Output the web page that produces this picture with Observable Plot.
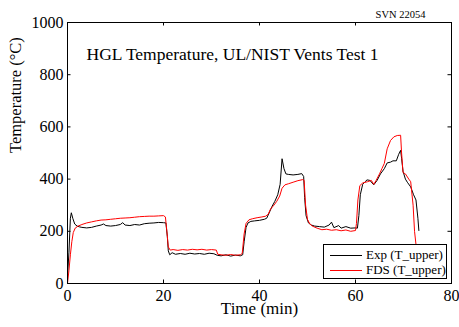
<!DOCTYPE html>
<html>
<head>
<meta charset="utf-8">
<script src="https://cdn.jsdelivr.net/npm/d3@7"></script>
<script src="https://cdn.jsdelivr.net/npm/@observablehq/plot@0.6"></script>
<style>
  body { margin: 0; background: white; }
  #wrap { position: relative; width: 459px; height: 327px; font-family: "Liberation Serif", serif; }
  #legend { position: absolute; left: 323px; top: 244px; width: 122px; height: 33px; border: 1px solid black; background: white; font-size: 13px; font-family: "Liberation Serif", serif; }
  .row { position: absolute; left: 0; height: 14px; }
  .swatch { position: absolute; left: 6px; top: 7px; width: 32px; height: 0; border-top: 1px solid black; }
  .lab { position: absolute; left: 42px; top: -1px; white-space: nowrap; }
</style>
</head>
<body>
<div id="wrap"></div>
<script>
const xTicks = [0, 20, 40, 60, 80];
const yTicks = [0, 200, 400, 600, 800, 1000];
const title = "HGL Temperature, UL/NIST Vents Test 1";
const revision = "SVN 22054";
const xLabel = "Time (min)";
const yLabel = "Temperature (\u00B0C)";
const seriesNames = ["Exp (T_upper)", "FDS (T_upper)"];
const seriesColors = ["black", "red"];

const expTime = [0,0.3,0.6,0.8,1.1,1.5,2,2.5,3,4,5,6,7,7.5,8,9,10,11,11.5,12,13,14,15,16,17,18,19,20,20.5,20.8,21.0,21.3,21.8,22.5,23.5,24.5,25.5,26.5,27.5,28.5,29.5,30.5,31.2,32,33,34,35,36,36.5,36.8,37.2,37.6,38.2,39,40,41,41.5,42,42.6,43.2,43.8,44.3,44.7,45.1,45.5,46,47,48,48.8,49.2,49.4,49.7,50.2,50.8,51.5,52.5,53.5,54.5,55,55.5,56.5,57,58,59,60,60.4,60.7,61,61.5,62,62.4,63,63.8,64.5,65.2,66,66.6,67.3,67.8,68.5,69,69.4,69.6,69.9,70.4,70.8,71.5,72.1,72.6,73.0,73.2];
const expTemp = [25,120,250,271,250,228,220,217,215,213,215,220,224,228,222,220,222,226,233,224,222,226,224,229,231,232,234,233,232,180,125,110,118,112,115,112,116,113,115,112,116,114,108,106,110,105,109,106,110,160,215,232,238,240,242,246,250,270,295,315,340,380,478,440,420,418,416,418,421,410,330,260,232,224,220,218,216,224,235,214,222,212,218,212,213,212,260,340,380,390,397,395,378,395,420,440,462,465,470,470,495,510,480,430,400,388,370,340,320,250,203];

const fdsTime = [0,0.3,0.6,0.9,1.2,1.6,2.2,3,4,5,6,7,8,9,10,11,12,13,14,15,16,17,18,19,20,20.4,20.7,21.0,21.4,22,23,24,25,26,27,28,29,30,31,31.3,32,33,34,35,36,36.4,36.8,37.2,37.8,38.5,39.5,40.5,41.3,41.8,42.3,43,43.6,44.2,44.7,45.3,46,47,48,49,49.3,49.6,50,50.5,51,52,53,54,55,56,57,58,59,60,60.2,60.5,60.9,61.5,62.5,63.3,63.8,64.3,65,65.5,66,66.6,67.3,68,68.7,69.4,69.6,69.9,70.4,71.1,71.5,72.0,72.3,72.6,73.0];
const fdsTemp = [0,50,110,160,195,212,220,226,232,236,240,243,244,246,248,250,251,252,254,256,257,258,258,259,260,255,200,140,128,130,127,130,128,131,129,131,128,130,128,112,110,108,111,108,110,115,190,230,244,248,252,255,258,265,285,300,315,335,365,378,382,388,394,398,395,300,245,228,220,212,206,208,204,206,202,205,200,203,230,320,375,385,390,395,380,395,420,440,460,516,548,562,567,568,500,425,420,400,390,300,200,150,100];

const exp = expTime.map((t, i) => ({t, T: expTemp[i]}));
const fds = fdsTime.map((t, i) => ({t, T: fdsTemp[i]}));

const tickX = 0.73, tickY = 13.4;
const serif = "'Liberation Serif', serif";

const chart = Plot.plot({
  width: 459, height: 327,
  marginLeft: 67, marginRight: 8, marginTop: 22, marginBottom: 44,
  style: {fontFamily: serif, fontSize: "16px", color: "black", background: "white", overflow: "visible"},
  x: {domain: [0, 80], label: null},
  y: {domain: [0, 1000], label: null},
  marks: [
    Plot.line(exp, {x: "t", y: "T", stroke: seriesColors[0], strokeWidth: 1}),
    Plot.line(fds, {x: "t", y: "T", stroke: seriesColors[1], strokeWidth: 1}),
    Plot.ruleY(yTicks, {x1: 0, x2: tickX, stroke: "black"}),
    Plot.ruleY(yTicks, {x1: 80 - tickX, x2: 80, stroke: "black"}),
    Plot.ruleX(xTicks, {y1: 0, y2: tickY, stroke: "black"}),
    Plot.ruleX(xTicks, {y1: 1000 - tickY, y2: 1000, stroke: "black"}),
    Plot.frame({stroke: "black", strokeWidth: 1}),
    Plot.axisX(xTicks, {tickSize: 0, tickPadding: 6, fontSize: 16, fontFamily: serif, fontVariant: "normal", tickFormat: d => String(d), label: null}),
    Plot.axisY(yTicks, {tickSize: 0, tickPadding: 4, fontSize: 16, fontFamily: serif, fontVariant: "normal", tickFormat: d => String(d), label: null}),
    Plot.text([xLabel], {frameAnchor: "bottom", dy: 30, text: d => d, fontSize: 17, fontFamily: serif}),
    Plot.text([yLabel], {frameAnchor: "left", dx: -52, rotate: -90, text: d => d, fontSize: 16.5, fontFamily: serif}),
    Plot.text([title], {frameAnchor: "top-left", dx: 19, dy: 25, textAnchor: "start", text: d => d, fontSize: 17.5, fontFamily: serif}),
    Plot.text([revision], {frameAnchor: "top-right", dx: -26, dy: -12, textAnchor: "end", text: d => d, fontSize: 10.5, fontFamily: serif})
  ]
});
const wrap = document.getElementById("wrap");
wrap.appendChild(chart);

const legend = document.createElement("div");
legend.id = "legend";
seriesNames.forEach((name, i) => {
  const row = document.createElement("div");
  row.className = "row";
  row.style.top = (3 + i * 15) + "px";
  const sw = document.createElement("div");
  sw.className = "swatch";
  sw.style.borderTopColor = seriesColors[i];
  const lab = document.createElement("div");
  lab.className = "lab";
  lab.textContent = name;
  row.appendChild(sw);
  row.appendChild(lab);
  legend.appendChild(row);
});
wrap.appendChild(legend);
</script>
</body>
</html>
